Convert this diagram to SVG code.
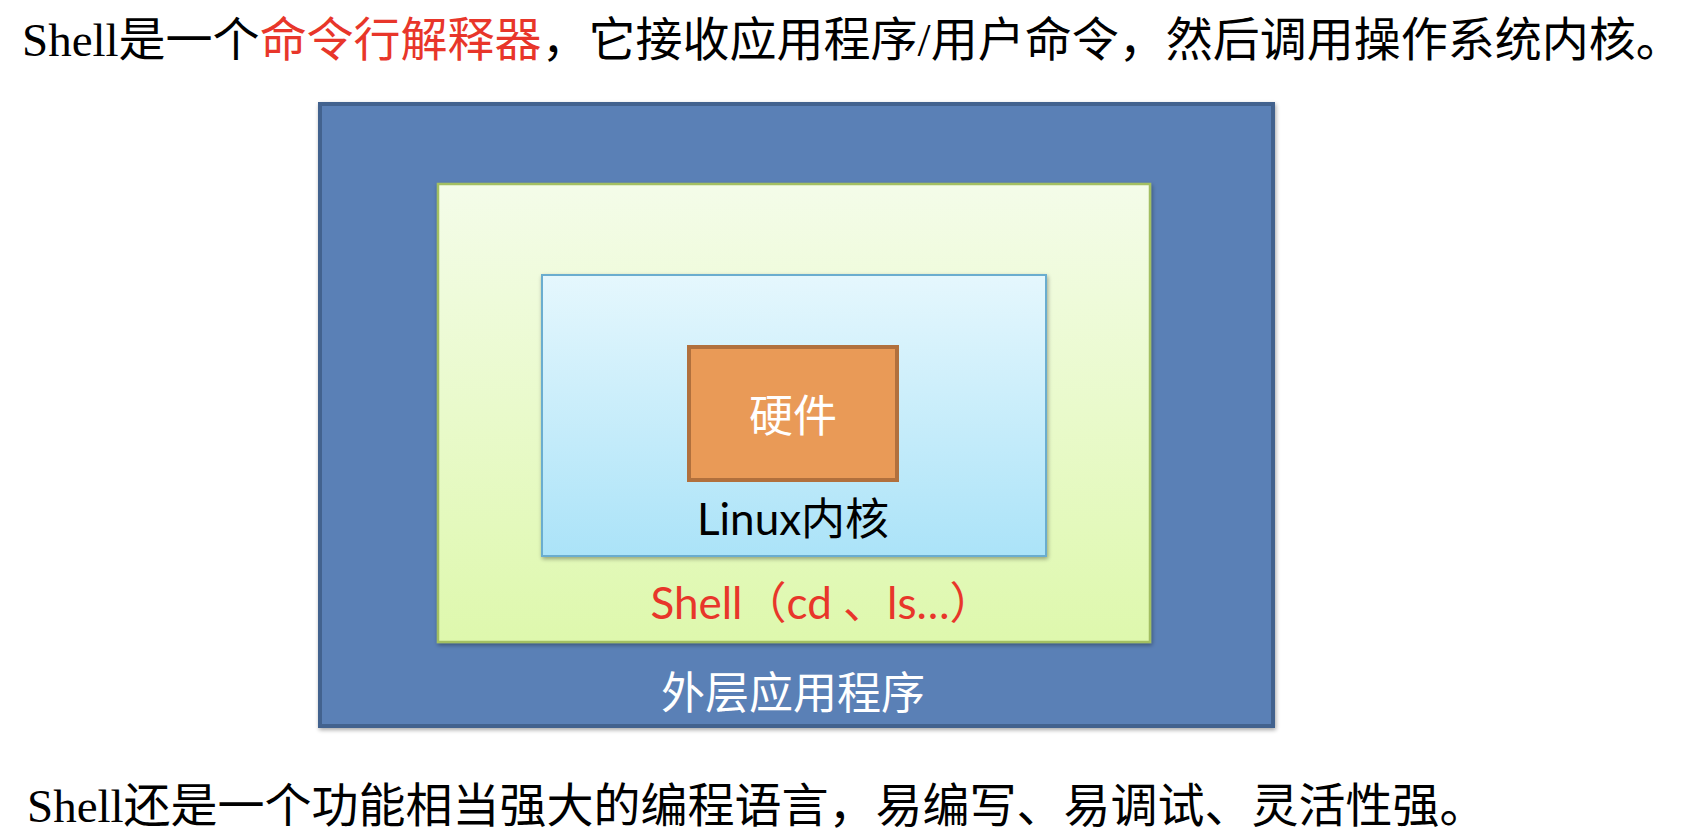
<svg xmlns="http://www.w3.org/2000/svg" width="1696" height="836" viewBox="0 0 1696 836">
<defs>
<linearGradient id="gGreen" x1="0" y1="0" x2="0" y2="1">
<stop offset="0" stop-color="#F4FCE9"/>
<stop offset="1" stop-color="#DEF8AD"/>
</linearGradient>
<linearGradient id="gBlue" x1="0" y1="0" x2="0" y2="1">
<stop offset="0" stop-color="#E5F7FD"/>
<stop offset="1" stop-color="#ABE3F8"/>
</linearGradient>
<filter id="shadow" x="-5%" y="-5%" width="110%" height="110%">
<feGaussianBlur in="SourceAlpha" stdDeviation="2"/>
<feOffset dx="1" dy="2" result="b"/>
<feComponentTransfer><feFuncA type="linear" slope="0.35"/></feComponentTransfer>
<feMerge><feMergeNode/><feMergeNode in="SourceGraphic"/></feMerge>
</filter>
</defs>
<style>
.cap{font-family:"Liberation Serif","Noto Sans CJK SC",serif;font-size:47px;fill:#000}
.red{fill:#E8362A}
.lbl{font-family:Lato,"Noto Sans CJK SC",sans-serif;font-size:44px;text-anchor:middle}
.white{fill:#FFFFFF}
</style>
<rect width="1696" height="836" fill="#FFFFFF"/>
<text class="cap" x="22" y="56">Shell是一个<tspan class="red">命令行解释器</tspan>，它接收应用程序/用户命令，然后调用操作系统内核。</text>
<g id="outer-apps">
<rect x="320" y="104" width="953" height="622" fill="#5A80B6" stroke="#42628E" stroke-width="4" filter="url(#shadow)"/>
<text class="lbl white" x="793" y="709" font-size="49">外层应用程序</text>
</g>
<g id="shell">
<rect x="438" y="184" width="712" height="458" fill="url(#gGreen)" stroke="#A3BF62" stroke-width="2.5" filter="url(#shadow)"/>
<text class="lbl" x="822" y="619" fill="#E8362A" font-size="46">Shell（cd 、ls…）</text>
</g>
<g id="kernel">
<rect x="542" y="275" width="504" height="281" fill="url(#gBlue)" stroke="#6AADCF" stroke-width="2" filter="url(#shadow)"/>
<text class="lbl" x="793" y="535" fill="#000000">Linux内核</text>
</g>
<g id="hardware">
<rect x="689" y="347" width="208" height="133" fill="#E99A57" stroke="#B1703D" stroke-width="4"/>
<text class="lbl white" x="793" y="432" font-size="46">硬件</text>
</g>
<text class="cap" x="27" y="822" font-size="47">Shell还是一个功能相当强大的编程语言，易编写、易调试、灵活性强。</text>
</svg>
